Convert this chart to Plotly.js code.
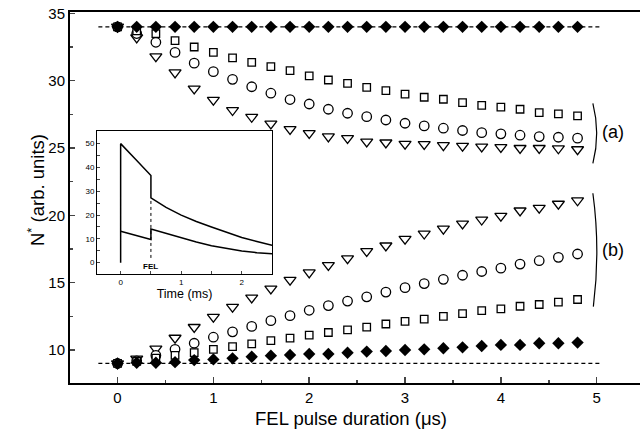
<!DOCTYPE html>
<html>
<head>
<meta charset="utf-8">
<script src="https://cdn.plot.ly/plotly-3.0.1.min.js"></script>
<style>html,body{margin:0;padding:0;overflow:hidden;background:#fff;}#chart{width:650px;height:443px;}</style>
</head>
<body>
<div id="chart"></div>
<script>
// FEL pulse duration (µs)
const pulseDuration = [0,0.2,0.4,0.6,0.8,1.0,1.2,1.4,1.6,1.8,2.0,2.2,2.4,2.6,2.8,3.0,3.2,3.4,3.6,3.8,4.0,4.2,4.4,4.6,4.8];

// group (a)
const aSquare  = [34.0,33.7,33.5,32.97,32.5,32.1,31.7,31.36,31.04,30.74,30.35,30.05,29.8,29.5,29.26,29.0,28.77,28.62,28.37,28.17,28.03,27.88,27.63,27.53,27.38];
const aCircle  = [34.0,33.5,32.85,32.1,31.3,30.67,30.1,29.55,29.07,28.6,28.27,27.88,27.58,27.33,27.08,26.84,26.64,26.47,26.3,26.14,26.05,25.95,25.85,25.8,25.73];
const aTri     = [34.0,33.2,31.8,30.6,29.4,28.57,27.8,27.3,26.8,26.4,26.1,25.85,25.73,25.47,25.4,25.3,25.28,25.2,25.15,25.1,25.06,24.99,24.99,24.96,24.9];
const aDiamond = [34.0,34.0,34.0,34.0,34.0,34.0,34.0,34.0,34.0,34.0,34.0,34.0,34.0,34.0,34.0,34.0,34.0,34.0,34.0,34.0,34.0,34.0,34.0,34.0,34.0];

// group (b)
const bTri     = [9.0,9.35,10.1,10.9,11.7,12.45,13.2,13.88,14.55,15.2,15.75,16.3,16.8,17.33,17.75,18.25,18.63,19.0,19.38,19.67,19.95,20.35,20.55,20.85,21.1];
const bCircle  = [9.0,9.2,9.6,10.05,10.5,10.95,11.35,11.75,12.18,12.55,12.95,13.3,13.63,13.95,14.3,14.63,14.93,15.25,15.55,15.83,16.08,16.38,16.63,16.88,17.13];
const bSquare  = [9.0,9.15,9.4,9.6,9.8,10.05,10.25,10.45,10.7,10.88,11.1,11.3,11.5,11.7,11.93,12.13,12.3,12.5,12.7,12.93,13.05,13.25,13.38,13.55,13.75];
const bDiamond = [9.0,9.05,9.05,9.1,9.25,9.3,9.38,9.5,9.58,9.63,9.7,9.7,9.8,9.88,9.93,10.0,10.05,10.13,10.2,10.3,10.38,10.38,10.5,10.5,10.55];

// dashed reference levels
const refLevels = [34, 9];
const refExtent = [-0.2, 5.05];

// inset: time (ms) traces
const insetUpperX = [0,0,0.25,0.5,0.5,0.75,1.0,1.25,1.5,1.75,2.0,2.25,2.5];
const insetUpperY = [0,50,43.3,36.6,27.2,23.2,20.0,17.3,15.0,12.7,10.6,8.9,7.3];
const insetLowerX = [0,0.25,0.5,0.5,0.75,1.0,1.25,1.5,1.75,2.0,2.25,2.5];
const insetLowerY = [13.2,11.4,9.7,14.1,12.2,10.5,8.7,7.1,5.9,4.9,4.2,3.7];
const felMarkX = [0.5,0.5];
const felMarkY = [2,27.2];

const mainTicks = [0,1,2,3,4,5];
const yTicks = [10,15,20,25,30,35];
const insetXTicks = [0,1,2];
const insetYTicks = [0,10,20,30,40,50];

const FONT = "Liberation Sans, Arial, sans-serif";
const traces = [];

refLevels.forEach(v => traces.push({
  x: refExtent, y: [v, v], mode: 'lines', type: 'scatter',
  line: {color: '#000', width: 1.2, dash: '4px,3px'}, hoverinfo: 'skip', showlegend: false
}));

function openSeries(y, sym, size) {
  return {x: pulseDuration, y: y, mode: 'markers', type: 'scatter', showlegend: false,
    marker: {symbol: sym, size: size, color: '#fff', line: {color: '#000', width: 1.3}}};
}
function filledSeries(y) {
  return {x: pulseDuration, y: y, mode: 'markers', type: 'scatter', showlegend: false,
    marker: {symbol: 'diamond', size: 9.5, color: '#000', line: {color: '#000', width: 0}}};
}
traces.push(openSeries(aTri, 'triangle-down', 10.5));
traces.push(openSeries(aCircle, 'circle', 9.5));
traces.push(openSeries(aSquare, 'square', 7.5));
traces.push(openSeries(bTri, 'triangle-down', 10.5));
traces.push(openSeries(bCircle, 'circle', 9.5));
traces.push(openSeries(bSquare, 'square', 7.5));
traces.push(filledSeries(aDiamond));
traces.push(filledSeries(bDiamond));

traces.push({x: insetUpperX, y: insetUpperY, xaxis: 'x2', yaxis: 'y2', mode: 'lines', type: 'scatter',
  line: {color: '#000', width: 1.5}, showlegend: false});
traces.push({x: insetLowerX, y: insetLowerY, xaxis: 'x2', yaxis: 'y2', mode: 'lines', type: 'scatter',
  line: {color: '#000', width: 1.5}, showlegend: false});
traces.push({x: felMarkX, y: felMarkY, xaxis: 'x2', yaxis: 'y2', mode: 'lines', type: 'scatter',
  line: {color: '#000', width: 1, dash: 'dot'}, showlegend: false});

const layout = {
  width: 650, height: 443,
  margin: {l: 70, r: 0, t: 12, b: 60},
  paper_bgcolor: '#fff', plot_bgcolor: '#fff',
  font: {family: FONT, color: '#000'},
  showlegend: false,
  xaxis: {
    range: [-0.496, 5.556], tickvals: mainTicks, ticks: 'inside', ticklen: 6, tickwidth: 1.5,
    minor: {ticks: 'inside', dtick: 0.5, tick0: 0, ticklen: 3, tickwidth: 1.5},
    showline: true, linewidth: 2, linecolor: '#000', mirror: true,
    showgrid: false, zeroline: false, tickfont: {size: 15, family: FONT}
  },
  yaxis: {
    range: [7.55, 35.1], tickvals: yTicks, ticks: 'inside', ticklen: 5, tickwidth: 1.5,
    minor: {ticks: 'inside', dtick: 2.5, tick0: 0, ticklen: 3, tickwidth: 1.5},
    showline: true, linewidth: 2, linecolor: '#000', mirror: true,
    showgrid: false, zeroline: false, tickfont: {size: 15, family: FONT}
  },
  xaxis2: {
    domain: [0.0466, 0.3483], anchor: 'y2', range: [-0.39, 2.5], tickvals: insetXTicks,
    ticks: 'inside', ticklen: 3, tickwidth: 1,
    minor: {ticks: 'inside', dtick: 0.5, tick0: 0, ticklen: 3, tickwidth: 1},
    showline: true, linewidth: 1, linecolor: '#000', mirror: true,
    showgrid: false, zeroline: false, tickfont: {size: 8, family: FONT},
    title: {text: 'Time (ms)', font: {size: 12.5, family: FONT}, standoff: 2}
  },
  yaxis2: {
    domain: [0.2938, 0.6792], anchor: 'x2', range: [-4.75, 55.3], tickvals: insetYTicks,
    ticks: 'inside', ticklen: 3, tickwidth: 1,
    minor: {ticks: 'inside', dtick: 5, tick0: 0, ticklen: 3, tickwidth: 1},
    showline: true, linewidth: 1, linecolor: '#000', mirror: true,
    showgrid: false, zeroline: false, tickfont: {size: 8, family: FONT}
  },
  shapes: [
    {type: 'path', xref: 'x', yref: 'y', path: 'M 4.96,28.32 Q 5.04,26.09 4.96,23.86', line: {color: '#000', width: 1.2}},
    {type: 'path', xref: 'x', yref: 'y', path: 'M 4.96,21.64 Q 5.04,17.43 4.965,13.22', line: {color: '#000', width: 1.2}}
  ],
  annotations: [
    {text: '(a)', x: 5.165, y: 26.2, xref: 'x', yref: 'y', showarrow: false, font: {size: 18, family: FONT}},
    {text: '(b)', x: 5.165, y: 17.43, xref: 'x', yref: 'y', showarrow: false, font: {size: 18, family: FONT}},
    {text: '<b>FEL</b>', x: 0.5, y: -1.4, xref: 'x2', yref: 'y2', showarrow: false, font: {size: 8, family: FONT}},
    {text: 'FEL pulse duration (\u03bcs)', x: 351, y: 431, xref: 'paper', yref: 'paper', showarrow: false,
     font: {size: 18.5, family: FONT}},
    {text: 'N<sup>*</sup> (arb. units)', x: 22, y: 190, xref: 'paper', yref: 'paper', showarrow: false,
     textangle: -90, font: {size: 18.5, family: FONT}}
  ]
};
// convert pixel-placed title annotations to paper coordinates
(function(){
  const pw = layout.width - layout.margin.l - layout.margin.r;
  const ph = layout.height - layout.margin.t - layout.margin.b;
  [3,4].forEach(i => {
    const a = layout.annotations[i];
    a.x = (a.x - layout.margin.l) / pw;
    a.y = (layout.height - layout.margin.b - a.y) / ph;
  });
})();

Plotly.newPlot('chart', traces, layout, {displayModeBar: false, staticPlot: true});
</script>
</body>
</html>
